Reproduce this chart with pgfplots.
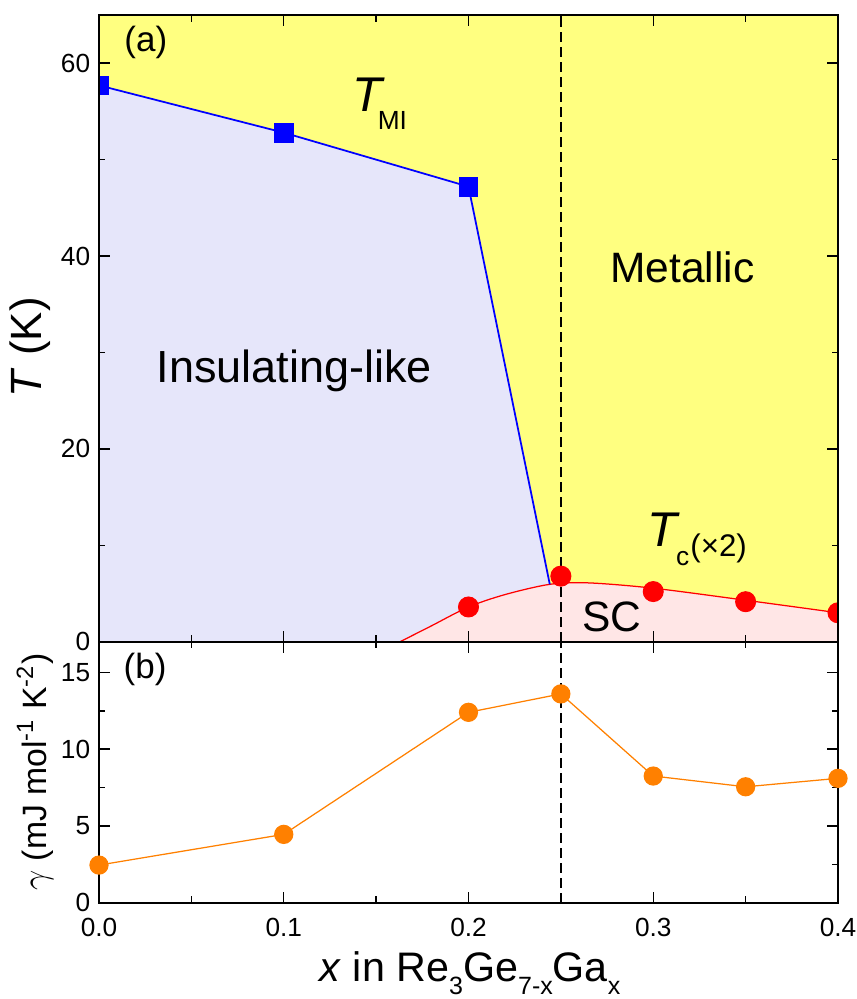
\documentclass[border=0pt]{standalone}
\usepackage{pgfplots}
\pgfplotsset{compat=1.18}
\usepackage{fontspec}
\setmainfont{Liberation Sans}
\definecolor{bgyellow}{RGB}{255,255,128}
\definecolor{lav}{RGB}{230,230,250}
\definecolor{scpink}{RGB}{255,230,230}
\definecolor{orangeline}{RGB}{255,128,0}
\definecolor{ballmid}{RGB}{255,140,0}
\definecolor{balledge}{RGB}{220,100,0}
\pgfdeclareradialshading{orangeball}{\pgfpoint{-16bp}{16bp}}{%
  color(0bp)=(white); color(9bp)=(white!45!ballmid); color(22bp)=(ballmid);
  color(40bp)=(ballmid); color(50bp)=(balledge)}
\begin{document}
\begin{tikzpicture}
\path[use as bounding box] (-39.6pt,-38.52pt) rectangle (303.2pt,361.08pt);
\pgfplotsset{
  common/.style={
    scale only axis, width=295.6pt, xmin=0, xmax=0.4,
    xtick={0,0.1,0.2,0.3,0.4}, minor x tick num=1,
    tick align=inside, major tick length=4.4pt, minor tick length=2.6pt,
    axis line style={line width=0.8pt},
    every tick/.style={black, line width=0.6pt},
    tick label style={font=\fontsize{10.5}{12}\selectfont},
    /pgf/number format/assume math mode=true,
  }
}
% panel (a)
\begin{axis}[common, at={(0pt,104.4pt)}, anchor=south west, height=250.68pt,
  ymin=0, ymax=65, ytick={0,20,40,60}, minor y tick num=1,
  xticklabels={},
  axis background/.style={fill=bgyellow},
  axis on top=true, clip marker paths=true,
  ylabel={\textit{T} (K)},
  ylabel style={font=\fontsize{17.5}{20}\selectfont, at={(axis description cs:-0.0934,0.47)}, anchor=center},
]
\addplot[fill=lav, draw=none] coordinates {(0,0) (0,57.7) (0.1,52.8) (0.2,47.2) (0.244,5.95) (0.244,0)} -- cycle;
\addplot[fill=scpink, draw=none, smooth] coordinates {(0.163,0) (0.18,1.65) (0.2,3.6) (0.22,4.9) (0.244,5.95) (0.265,6.1) (0.3,5.55) (0.35,4.3) (0.4,3.0)} \closedcycle;
\addplot[red, line width=0.5pt, smooth] coordinates {(0.163,0) (0.18,1.65) (0.2,3.6) (0.22,4.9) (0.244,5.95) (0.265,6.1) (0.3,5.55) (0.35,4.3) (0.4,3.0)};
\addplot[black, line width=1pt, dash pattern=on 4pt off 2pt] coordinates {(0.25,0) (0.25,65)};
\addplot[blue, line width=0.7pt, mark=square*, mark size=3.6pt, mark indices={1,2,3}] coordinates {(0,57.7) (0.1,52.8) (0.2,47.2) (0.244,5.95)};
\addplot[only marks, mark=*, red, mark size=4pt] coordinates {(0.2,3.6) (0.25,6.8) (0.3,5.2) (0.35,4.15) (0.4,3.0)};
\node[anchor=west, inner sep=0pt, font=\fontsize{14}{16}\selectfont] at (axis cs:0.0135,62.2) {(a)};
\node[anchor=base west, inner sep=0pt] at (axis cs:0.137,55.0) {\fontsize{19.5}{20}\selectfont\textit{T}\kern-3pt\raisebox{-7.2pt}{\fontsize{10.5}{12}\selectfont MI}};
\node[anchor=base west, inner sep=0pt, font=\fontsize{17}{20}\selectfont] at (axis cs:0.2766,37.28) {Metallic};
\node[anchor=base west, inner sep=0pt, font=\fontsize{18}{20}\selectfont] at (axis cs:0.0309,26.9) {Insulating-like};
\node[anchor=base west, inner sep=0pt] at (axis cs:0.2964,9.84) {\fontsize{19.5}{20}\selectfont\textit{T}\kern-1.5pt\raisebox{-7.3pt}{\fontsize{10.5}{12}\selectfont c}\kern0.5pt\raisebox{-3.7pt}{\fontsize{12.5}{14}\selectfont(\texttimes2)}};
\node[anchor=base west, inner sep=0pt, font=\fontsize{17}{20}\selectfont] at (axis cs:0.2613,1.04) {SC};
\end{axis}
% panel (b)
\begin{axis}[common, at={(0pt,0pt)}, anchor=south west, height=104.4pt,
  ymin=0, ymax=17, ytick={0,5,10,15}, minor y tick num=1,
  xticklabel style={yshift=-2.5pt, /pgf/number format/.cd, fixed, fixed zerofill, precision=1},
  xlabel={\textit{x} in Re\raisebox{-5pt}{\fontsize{10}{12}\selectfont 3}Ge\raisebox{-5pt}{\fontsize{10}{12}\selectfont 7-x}Ga\raisebox{-5pt}{\fontsize{10}{12}\selectfont x}},
  xlabel style={font=\fontsize{16.5}{18}\selectfont, at={(axis description cs:0.502,-0.303)}, anchor=base},
  ylabel={$\gamma$ (mJ mol\textsuperscript{-1} K\textsuperscript{-2})},
  ylabel style={font=\fontsize{13.5}{16}\selectfont, at={(axis description cs:-0.0866,0.5)}, anchor=center},
]
\addplot[black, line width=1pt, dash pattern=on 4pt off 2pt] coordinates {(0.25,0) (0.25,17)};
\addplot[orangeline, line width=0.5pt, mark=*, mark size=3.6pt, mark options={draw=none, shade, shading=orangeball}] coordinates {(0,2.45) (0.1,4.45) (0.2,12.4) (0.25,13.6) (0.3,8.25) (0.35,7.55) (0.4,8.1)};
\node[anchor=west, inner sep=0pt, font=\fontsize{14}{16}\selectfont] at (axis cs:0.0131,15.2) {(b)};
\end{axis}
\end{tikzpicture}
\end{document}
